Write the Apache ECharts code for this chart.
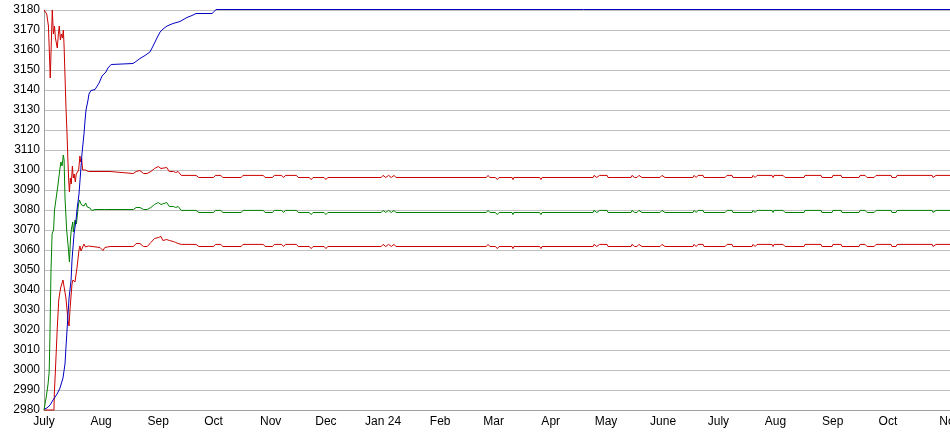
<!DOCTYPE html>
<html>
<head>
<meta charset="utf-8">
<script src="https://cdn.jsdelivr.net/npm/echarts@6/dist/echarts.min.js"></script>
<style>
  html, body { margin: 0; padding: 0; background: #fff; }
  #chart { width: 950px; height: 435px; }
</style>
</head>
<body>
<div id="chart"></div>
<script>
// days counted from 1 July 2023
var startDate = new Date(2023, 6, 1);
var endDay = 491.7;

var monthNames = ['Jan', 'Feb', 'Mar', 'Apr', 'May', 'June', 'July', 'Aug', 'Sep', 'Oct', 'Nov', 'Dec'];

var yMin = 2980;
var yMax = 3180;
var yStep = 10;

// early, unsettled part of each line: [day, value]
var upperEarly = [
    [0, 3180], [1.5, 3178], [2.4, 3172], [3.4, 3146], [4.5, 3180], [5.1, 3168], [5.7, 3172],
    [6.2, 3166], [6.8, 3167], [7.2, 3161], [7.8, 3168], [8.3, 3172], [8.9, 3165], [9.4, 3168],
    [10, 3166], [10.5, 3170], [10.9, 3162], [11.4, 3147], [11.9, 3132], [12.5, 3118], [13, 3104],
    [13.4, 3095], [13.8, 3089], [14.3, 3096], [14.8, 3093], [15.4, 3102], [15.9, 3096], [16.4, 3098],
    [17, 3094], [17.5, 3098], [18.1, 3097], [18.8, 3100], [19.5, 3107], [19.9, 3104], [20.4, 3106],
    [21, 3100], [21.7, 3101], [22.5, 3100], [23.2, 3101], [24, 3099.25], [35.8, 3099.25], [36.2, 3098.25],
    [48.5, 3098.25], [50, 3099.25], [51, 3098.75], [52.1, 3099.75], [54, 3098.25], [56, 3098.25], [58, 3099.25],
    [60, 3100.75], [62, 3101.75], [63.5, 3100.75], [64.5, 3099.75], [66.6, 3101.25], [68, 3099.25], [70.2, 3099.25],
    [71.5, 3098.75], [72.8, 3099.25], [74.5, 3097.3], [82.5, 3097.3]
];
var middleEarly = [
    [0, 2980], [1.3, 2987], [2.2, 2993], [2.8, 2999], [3.2, 3016], [3.8, 3050], [4.4, 3068],
    [5.2, 3070], [5.7, 3080], [6.6, 3086], [7.5, 3092], [8.7, 3101], [9.2, 3104], [9.8, 3102],
    [10.5, 3107.5], [10.9, 3105], [11.4, 3086], [12.3, 3070], [13.2, 3061], [13.8, 3054], [14.1, 3060],
    [14.4, 3066], [14.8, 3070], [15.6, 3074], [15.9, 3069], [16.8, 3075], [17.6, 3073], [18.6, 3082],
    [19.2, 3085], [19.7, 3084], [20.4, 3082.5], [21.3, 3083], [21.7, 3082], [22.6, 3083.5], [23.5, 3081.5],
    [24.9, 3081], [25.9, 3079.75], [27.7, 3080.25], [33, 3080.25], [34, 3079.25], [34.7, 3080.25],
    [48.5, 3080.25], [50, 3081.25], [51, 3080.75], [52.1, 3081.25], [54, 3080.25], [56, 3080.25], [58, 3081.25],
    [60, 3082.75], [62, 3083.75], [63.5, 3082.75], [64.5, 3082.25], [66.6, 3083.75], [68, 3081.75], [70.2, 3081.75],
    [71.5, 3081.25], [72.8, 3081.75], [74.5, 3079.8], [82.5, 3079.8]
];
var lowerEarly = [
    [0, 2980], [5.4, 2980], [5.6, 2988], [6.2, 3000], [7.2, 3021], [8, 3035], [9, 3041],
    [10.3, 3045], [10.9, 3044], [11.9, 3036], [13, 3025], [13.6, 3022], [14.1, 3030], [14.6, 3036],
    [15.2, 3043], [15.7, 3045], [16.8, 3044], [17.9, 3051], [19, 3060], [19.5, 3062], [20.1, 3059.5],
    [21, 3061.5], [21.7, 3063], [22.5, 3061.5], [24, 3062], [25, 3061.25], [30.4, 3061.25], [32, 3059.75],
    [33, 3061.25], [35.8, 3061.75], [48.5, 3061.75], [50, 3063.25], [51, 3062.75], [52.1, 3063.25], [54, 3061.75],
    [56, 3061.75], [58, 3063.75], [60, 3065.75], [62, 3066.25], [63.5, 3066.75], [64.5, 3064.75], [66.6, 3065.25],
    [68, 3064.75], [70.2, 3064.25], [71.5, 3063.75], [72.8, 3063.25], [74.5, 3062.8], [82.5, 3062.8]
];

// settled part, the three band lines change on the same days
var bandDays = [
    84, 92, 93, 96, 97, 107, 108, 119, 120, 124,
    125, 129, 130, 131, 137, 138, 144, 145, 146, 152,
    153, 154, 183, 184, 185.5, 187, 188.5, 190, 191, 240,
    241, 242, 245, 246, 247, 254, 254.5, 255, 269, 269.7,
    270.3, 298, 298.5, 300, 301.5, 305.6, 306.1, 318.6, 319.1, 320.5,
    321.8, 322.9, 324.5, 334.3, 335.4, 337, 352.2, 352.8, 353.9, 355,
    357.7, 358.2, 369.6, 370.7, 373.4, 373.9, 384.3, 384.8, 385.9, 387,
    395.1, 395.7, 396.2, 401.1, 402.2, 412.5, 413, 421.7, 422.2, 427.7,
    428.2, 432.6, 433.1, 442.3, 442.9, 445.6, 446.7, 450.5, 451.6, 459.7,
    460.2, 462.4, 463, 482, 482.5, 483, 484.1, 492
];
var upperBand = [
    3096.25, 3096.25, 3097.3, 3097.3, 3096.25, 3096.25, 3097.3, 3097.3, 3096.25, 3096.25,
    3097.3, 3097.3, 3096.25, 3097.3, 3097.3, 3096.25, 3096.25, 3095.2, 3096.25, 3096.25,
    3095.2, 3096.25, 3096.25, 3097.3, 3096.25, 3097.3, 3096.25, 3097.3, 3096.25, 3096.25,
    3097.3, 3096.25, 3096.25, 3095.2, 3096.25, 3096.25, 3095.2, 3096.25, 3096.25, 3095.2,
    3096.25, 3096.25, 3097.3, 3096.25, 3097.3, 3097.3, 3096.25, 3096.25, 3097.3, 3096.25,
    3096.25, 3097.3, 3096.25, 3096.25, 3097.3, 3096.25, 3096.25, 3097.3, 3096.25, 3097.3,
    3097.3, 3096.25, 3096.25, 3097.3, 3097.3, 3096.25, 3096.25, 3097.3, 3096.25, 3097.3,
    3097.3, 3096.25, 3097.3, 3097.3, 3096.25, 3096.25, 3097.3, 3097.3, 3096.25, 3096.25,
    3097.3, 3097.3, 3096.25, 3096.25, 3097.3, 3097.3, 3096.25, 3096.25, 3097.3, 3097.3,
    3096.25, 3096.25, 3097.3, 3097.3, 3096.25, 3096.25, 3097.3, 3097.3
];
var middleBand = [
    3078.75, 3078.75, 3079.8, 3079.8, 3078.75, 3078.75, 3079.8, 3079.8, 3078.75, 3078.75,
    3079.8, 3079.8, 3078.75, 3079.8, 3079.8, 3078.75, 3078.75, 3077.7, 3078.75, 3078.75,
    3077.7, 3078.75, 3078.75, 3079.8, 3078.75, 3079.8, 3078.75, 3079.8, 3078.75, 3078.75,
    3079.8, 3078.75, 3078.75, 3077.7, 3078.75, 3078.75, 3077.7, 3078.75, 3078.75, 3077.7,
    3078.75, 3078.75, 3079.8, 3078.75, 3079.8, 3079.8, 3078.75, 3078.75, 3079.8, 3078.75,
    3078.75, 3079.8, 3078.75, 3078.75, 3079.8, 3078.75, 3078.75, 3079.8, 3078.75, 3079.8,
    3079.8, 3078.75, 3078.75, 3079.8, 3079.8, 3078.75, 3078.75, 3079.8, 3078.75, 3079.8,
    3079.8, 3078.75, 3079.8, 3079.8, 3078.75, 3078.75, 3079.8, 3079.8, 3078.75, 3078.75,
    3079.8, 3079.8, 3078.75, 3078.75, 3079.8, 3079.8, 3078.75, 3078.75, 3079.8, 3079.8,
    3078.75, 3078.75, 3079.8, 3079.8, 3078.75, 3078.75, 3079.8, 3079.8
];
var lowerBand = [
    3061.75, 3061.75, 3062.8, 3062.8, 3061.75, 3061.75, 3062.8, 3062.8, 3061.75, 3061.75,
    3062.8, 3062.8, 3061.75, 3062.8, 3062.8, 3061.75, 3061.75, 3060.7, 3061.75, 3061.75,
    3060.7, 3061.75, 3061.75, 3062.8, 3061.75, 3062.8, 3061.75, 3062.8, 3061.75, 3061.75,
    3062.8, 3061.75, 3061.75, 3060.7, 3061.75, 3061.75, 3060.7, 3061.75, 3061.75, 3060.7,
    3061.75, 3061.75, 3062.8, 3061.75, 3062.8, 3062.8, 3061.75, 3061.75, 3062.8, 3061.75,
    3061.75, 3062.8, 3061.75, 3061.75, 3062.8, 3061.75, 3061.75, 3062.8, 3061.75, 3062.8,
    3062.8, 3061.75, 3061.75, 3062.8, 3062.8, 3061.75, 3061.75, 3062.8, 3061.75, 3062.8,
    3062.8, 3061.75, 3062.8, 3062.8, 3061.75, 3061.75, 3062.8, 3062.8, 3061.75, 3061.75,
    3062.8, 3062.8, 3061.75, 3061.75, 3062.8, 3062.8, 3061.75, 3061.75, 3062.8, 3062.8,
    3061.75, 3061.75, 3062.8, 3062.8, 3061.75, 3061.75, 3062.8, 3062.8
];

// blue line, the running total
var blueLine = [
    [0.3, 2980.5], [1.6, 2981], [3.3, 2982.5], [4.9, 2985], [7.1, 2988], [8.7, 2991], [10.3, 2996],
    [11.4, 3003], [11.9, 3011], [12.5, 3020], [13.6, 3036], [14.7, 3045], [15.2, 3055], [16.3, 3068],
    [17.4, 3075], [17.9, 3080], [19, 3088], [20.6, 3108], [21.7, 3118], [22.3, 3125], [22.8, 3130],
    [23.9, 3135], [24.4, 3138], [25.5, 3139.75], [27.7, 3140.25], [29.9, 3143.5], [31.5, 3147],
    [33.6, 3149], [34.7, 3151], [36.4, 3152.75], [37.4, 3153.25], [48.3, 3153.25], [49.9, 3154.25],
    [52.1, 3155.75], [54.8, 3157.25], [57.5, 3159], [59.2, 3162], [61.3, 3166], [63, 3169], [64.6, 3170.5],
    [66.8, 3172], [70, 3173.25], [73.8, 3174.25], [77.6, 3176.25], [80.3, 3177.25], [82.5, 3178.25], [91.2, 3178.25],
    [92.3, 3179.25], [93.4, 3180.25], [492, 3180.25]
];

function dayToTime(d) {
    return startDate.getTime() + d * 86400000;
}

function makeLine(early, days, values) {
    var pts = early.slice();
    if (days) {
        for (var i = 0; i < days.length; i++) {
            pts.push([days[i], values[i]]);
        }
    }
    return pts.map(function (p) { return [dayToTime(p[0]), p[1]]; });
}

var myChart = echarts.init(document.getElementById('chart'));

function lineSeries(name, color, data) {
    return {
        name: name,
        type: 'line',
        data: data,
        showSymbol: false,
        symbol: 'none',
        animation: false,
        clip: false,
        lineStyle: { color: color, width: 1 },
        emphasis: { disabled: true }
    };
}

myChart.setOption({
    animation: false,
    textStyle: { fontFamily: 'Arial, "Liberation Sans", sans-serif' },
    grid: {
        left: 44,
        right: 0,
        top: 10,
        bottom: 25,
        outerBoundsMode: 'none'
    },
    xAxis: {
        type: 'time',
        min: dayToTime(0),
        max: dayToTime(endDay),
        splitNumber: 16,
        minInterval: 28 * 86400000,
        maxInterval: 31 * 86400000,
        axisLine: { show: true, lineStyle: { color: '#a0a0a0' } },
        axisTick: { show: false },
        splitLine: { show: false },
        axisLabel: {
            color: '#000',
            fontSize: 12,
            margin: 6,
            showMinLabel: true,
            showMaxLabel: true,
            hideOverlap: false,
            formatter: function (value) {
                var d = new Date(value);
                var m = d.getMonth();
                if (m === 0) {
                    return 'Jan ' + String(d.getFullYear()).slice(2);
                }
                return monthNames[m];
            }
        }
    },
    yAxis: {
        type: 'value',
        min: yMin,
        max: yMax,
        interval: yStep,
        axisLine: { show: true, lineStyle: { color: '#a0a0a0' } },
        axisTick: { show: false },
        splitLine: { show: true, lineStyle: { color: '#c0c0c0', width: 1 } },
        axisLabel: {
            color: '#000',
            fontSize: 12,
            margin: 4,
            formatter: function (v) { return String(v); }
        }
    },
    series: [
        lineSeries('Upper', '#cc0000', makeLine(upperEarly, bandDays, upperBand)),
        lineSeries('Lower', '#cc0000', makeLine(lowerEarly, bandDays, lowerBand)),
        lineSeries('Middle', '#008000', makeLine(middleEarly, bandDays, middleBand)),
        lineSeries('Total', '#0000c0', makeLine(blueLine, null, null))
    ]
});
</script>
</body>
</html>
